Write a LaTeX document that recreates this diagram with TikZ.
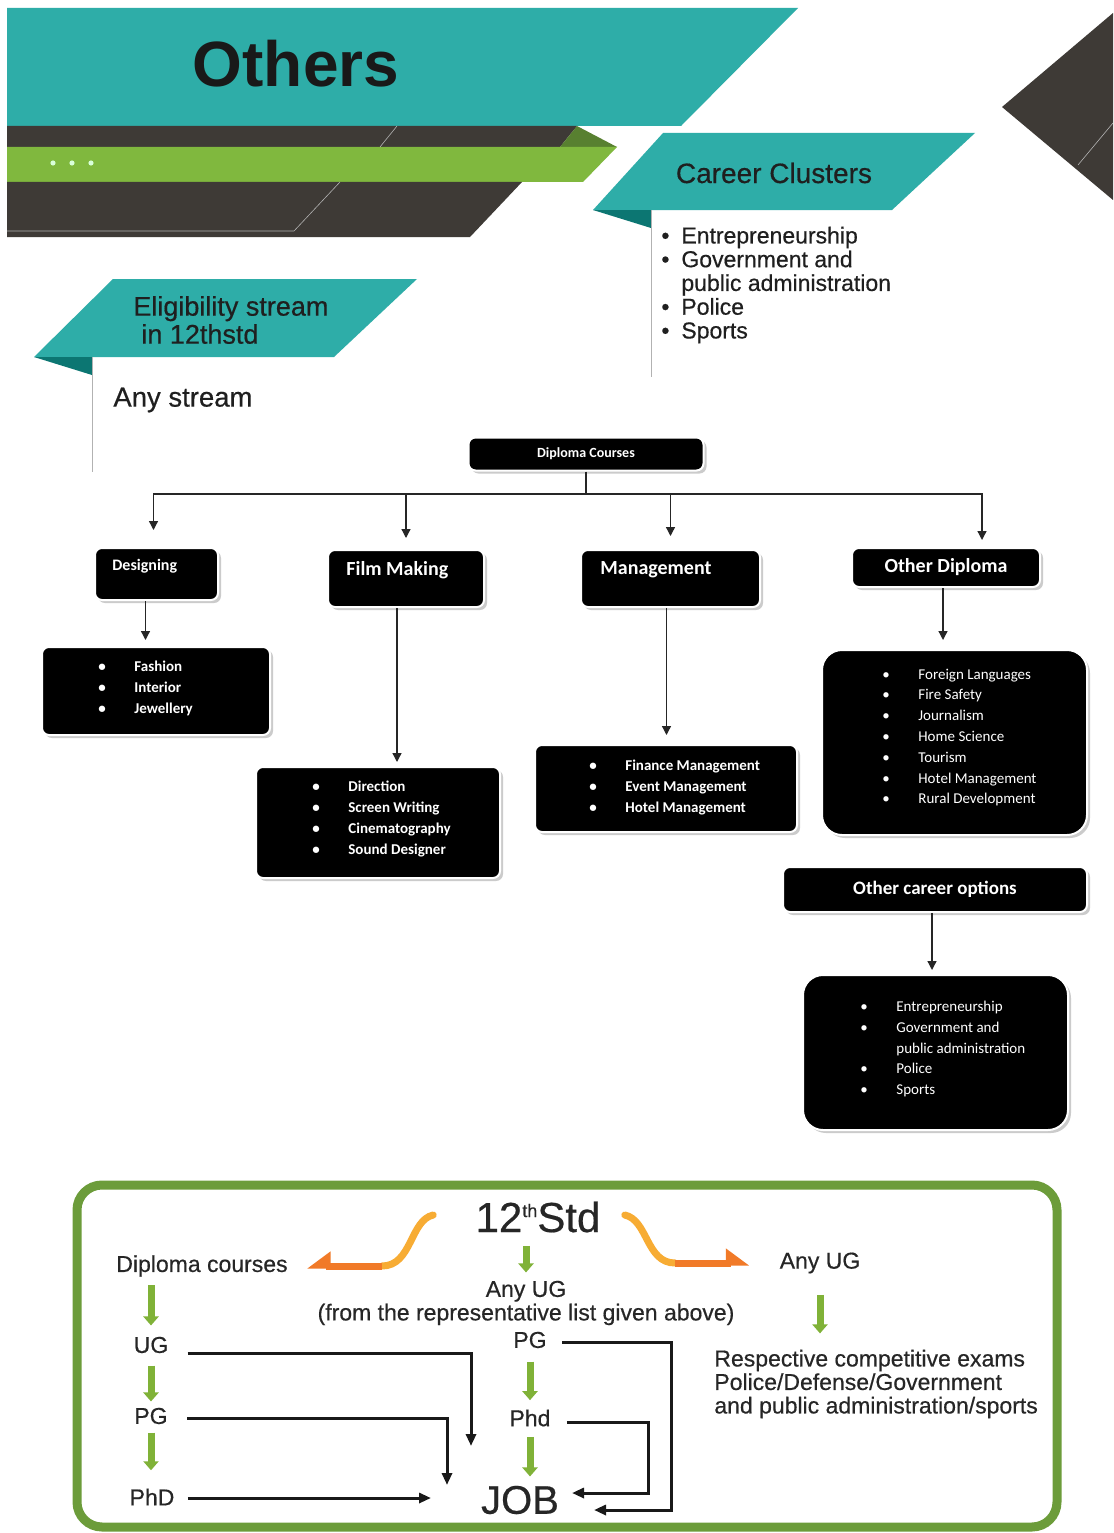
\documentclass[tikz,border=0pt]{standalone}
\usepackage{fontspec}
\setmainfont{Liberation Sans}
\newfontfamily\boxfont{Carlito}
\usetikzlibrary{arrows.meta,shadows}

\definecolor{bannerteal}{RGB}{46,173,168}
\definecolor{foldteal}{RGB}{12,118,114}
\definecolor{bandgray}{RGB}{62,58,54}
\definecolor{bandgreen}{RGB}{128,184,62}
\definecolor{foldgreen}{RGB}{88,128,48}
\definecolor{framegreen}{RGB}{108,156,58}
\definecolor{arrowgreen}{RGB}{128,178,56}
\definecolor{orangelight}{RGB}{247,172,52}
\definecolor{orangedark}{RGB}{241,122,40}

\newcommand{\hb}{\makebox[20pt][l]{\textbullet}}
\newcommand{\bb}{\makebox[36pt][l]{\textbullet}}
\newcommand{\heavy}{\addfontfeatures{FakeBold=0.5}}

\begin{document}
\begin{tikzpicture}[x=1pt,y=-1pt,thick,
    box/.style={rectangle,rounded corners=7pt,fill=black,draw=white,line width=2pt,
      drop shadow={shadow xshift=3pt,shadow yshift=-3pt,fill=black!40},inner sep=0pt},
    big box/.style={box,rounded corners=20pt},
    box text/.style={text=white,inner sep=0pt,font=\boxfont\bfseries\fontsize{#1}{#1}\selectfont},
    list text/.style={text=white,inner sep=0pt,align=left,font=\boxfont\bfseries\fontsize{15}{21}\selectfont},
    plain list/.style={list text,font=\boxfont\fontsize{15}{20.8}\selectfont},
    head text/.style={inner sep=0pt,text=black!88,font=\fontsize{#1}{#1}\selectfont\heavy},
    head list/.style={inner sep=0pt,text=black!88,align=left,font=\fontsize{23}{23.75}\selectfont\heavy},
    conn/.style={draw=black!85,line width=1.3pt,-{Triangle[length=9pt,width=9pt]},shorten >=12pt},
    bottom text/.style={inner sep=2pt,text=black!85,font=\fontsize{23}{23.5}\selectfont\heavy},
    green step/.style={draw=arrowgreen,line width=7pt,-{Triangle[length=9pt,width=15pt]}},
    bottom line/.style={draw=black!90,line width=3pt,-{Triangle[length=12pt,width=10pt]}},
    orange curve/.style={draw=orangelight,line width=7pt,line cap=round},
    orange tip/.style={draw=orangedark,line width=7pt,-{Triangle[harpoon,swap,length=20pt,width=28pt]}},
    orange tip r/.style={draw=orangedark,line width=7pt,-{Triangle[harpoon,length=20pt,width=28pt]}}]

  \useasboundingbox (0,0) rectangle (1113,1533);
  \fill[white] (0,0) rectangle (1113,1533);

  % header bands
  \fill[bannerteal] (7,8) -- (798,8) -- (681,126) -- (7,126) -- cycle;
  \fill[bandgray] (7,126) -- (577,126) -- (560,147) -- (7,147) -- cycle;
  \fill[foldgreen] (577,126) -- (617,147) -- (560,147) -- cycle;
  \fill[bandgreen] (7,147) -- (617,147) -- (583,182) -- (7,182) -- cycle;
  \fill[bandgray] (7,182) -- (522,182) -- (470,237) -- (7,237) -- cycle;
  \draw[black!30,line width=0.6pt] (397,126) -- (380,147) (340,182) -- (294,231) -- (7,231);
  \foreach \dx in {53,72,91}
    \fill[green!15!white] (\dx,163) circle (2.6);
  \fill[bandgray] (1002,107) -- (1113,13) -- (1113,200) -- cycle;
  \draw[black!30,line width=0.6pt] (1078,165) -- (1113,123);
  \node[inner sep=0pt,text=black!90,font=\bfseries\fontsize{64}{64}\selectfont] (title) at (296,64) {Others};

  % career clusters
  \fill[bannerteal] (663,133) -- (975,133) -- (892,210) -- (593,210) -- cycle;
  \fill[foldteal] (593,210) -- (651,210) -- (651,228) -- cycle;
  \draw[black!30,line width=1pt] (651,210) -- (651,377);
  \node[head text=28] (clusters) at (774,173) {Career Clusters};
  \node[head list,anchor=west] (clusterlist) at (661,285)
    {\hb Entrepreneurship\\\hb Government and\\\hspace*{20pt}public administration\\\hb Police\\\hb Sports};

  % eligibility
  \fill[bannerteal] (113,279) -- (417,279) -- (334,357) -- (34,357) -- cycle;
  \fill[foldteal] (34,357) -- (92,357) -- (92,375) -- cycle;
  \draw[black!30,line width=1pt] (92,357) -- (92,472);
  \node[head list,font=\fontsize{27}{28}\selectfont\heavy,anchor=west] (elig) at (133,320)
    {Eligibility stream\\\hspace*{8pt}in 12thstd};
  \node[head text=27.5,anchor=west] (anystream) at (113,400) {Any stream};

  % diploma chart
  \node[box,box text=14,minimum width=235pt,minimum height=33pt] (dip) at (586,454) {Diploma Courses};
  \node[box,minimum width=123pt,minimum height=52pt] (des) at (156.5,574) {};
  \node[box text=16,anchor=west] (destxt) at (112,566) {Designing};
  \node[box,minimum width=156pt,minimum height=57pt] (film) at (406,578.5) {};
  \node[box text=20,anchor=west] (filmtxt) at (346,570) {Film Making};
  \node[box,minimum width=179pt,minimum height=57pt] (mgmt) at (670.5,578.5) {};
  \node[box text=20,anchor=west] (mgmttxt) at (600,570) {Management};
  \node[box,box text=20,minimum width=188pt,minimum height=39pt] (odip) at (946,567.5) {Other Diploma};

  \node[box,minimum width=228pt,minimum height=88pt] (deslist) at (156,691) {};
  \node[list text,anchor=west] (deslisttxt) at (98,688) {\bb Fashion\\\bb Interior\\\bb Jewellery};
  \node[box,minimum width=244pt,minimum height=111pt] (filmlist) at (378,822.5) {};
  \node[list text,anchor=west] (filmlisttxt) at (312,818.5)
    {\bb Direction\\\bb Screen Writing\\\bb Cinematography\\\bb Sound Designer};
  \node[box,minimum width=262pt,minimum height=87pt] (mgmtlist) at (666,788.5) {};
  \node[list text,anchor=west] (mgmtlisttxt) at (589,787)
    {\bb Finance Management\\\bb Event Management\\\bb Hotel Management};
  \node[big box,minimum width=265pt,minimum height=185pt] (odiplist) at (954.5,742.5) {};
  \node[plain list,anchor=west] (odiplisttxt) at (882,737.5)
    {\bb Foreign Languages\\\bb Fire Safety\\\bb Journalism\\\bb Home Science\\\bb Tourism\\\bb Hotel Management\\\bb Rural Development};

  \node[box,box text=19,minimum width=304pt,minimum height=45pt] (ocareer) at (935,889.5) {Other career options};
  \node[big box,minimum width=265pt,minimum height=155pt] (oclist) at (935.5,1052.5) {};
  \node[plain list,anchor=west] (oclisttxt) at (860,1049)
    {\bb Entrepreneurship\\\bb Government and\\\hspace*{36pt}public administration\\\bb Police\\\bb Sports};

  \coordinate (split) at (586,494);
  \draw[draw=black!85,line width=1.3pt] (dip.south) -- (split);
  \draw[conn,shorten >=17pt] (split) -| ([xshift=-3pt]des.north);
  \draw[conn,shorten >=11pt] (split) -| (film.north);
  \draw[conn,shorten >=13pt] (split) -| (mgmt.north);
  \draw[conn,shorten >=7pt] (split) -| ([xshift=36pt]odip.north);
  \draw[conn,shorten >=6pt] ([xshift=-11pt]des.south) -- ([xshift=-11pt]des.south |- deslist.north);
  \draw[conn,shorten >=4pt] ([xshift=-9pt]film.south) -- ([xshift=-9pt]film.south |- filmlist.north);
  \draw[conn,shorten >=9pt] ([xshift=-4pt]mgmt.south) -- ([xshift=-4pt]mgmt.south |- mgmtlist.north);
  \draw[conn,shorten >=9pt] ([xshift=-3pt]odip.south) -- ([xshift=-3pt]odip.south |- odiplist.north);
  \draw[conn,shorten >=4pt] ([xshift=-3pt]ocareer.south) -- ([xshift=-3pt]ocareer.south |- oclist.north);

  % pathways
  \draw[framegreen,line width=9pt,rounded corners=25pt] (77,1185) rectangle (1057,1527);
  \node[bottom text,font=\fontsize{42}{42}\selectfont\heavy] (std12) at (538,1217)
    {12\raisebox{15pt}{\fontsize{18}{18}\selectfont\heavy th}Std};
  \node[bottom text] (dipc) at (202,1266) {Diploma courses};
  \node[bottom text,align=center] (anyug) at (526,1303) {Any UG\\(from the representative list given above)};
  \node[bottom text] (anyugr) at (820,1263) {Any UG};
  \node[bottom text] (ug) at (151,1345) {UG};
  \node[bottom text] (pgl) at (151,1416) {PG};
  \node[bottom text] (phdl) at (152,1497) {PhD};
  \node[bottom text] (pgm) at (530,1340) {PG};
  \node[bottom text] (phdm) at (530,1418) {Phd};
  \node[bottom text,font=\fontsize{40}{40}\selectfont\heavy] (job) at (520,1500) {JOB};
  \node[bottom text,align=left,anchor=west] (exams) at (712,1384)
    {Respective competitive exams\\Police/Defense/Government\\and public administration/sports};

  \coordinate (olbend) at (382,1266);
  \draw[orange curve] ([xshift=-40pt,yshift=2pt]std12.west) .. controls (410,1220) and (412,1266) .. (olbend);
  \draw[orange tip] (olbend) -- ([xshift=17pt]dipc.east);
  \coordinate (orbend) at (675,1263);
  \draw[orange curve] ([xshift=22pt,yshift=2pt]std12.east) .. controls (648,1220) and (646,1263) .. (orbend);
  \draw[orange tip r] (orbend) -- ([xshift=-28pt]anyugr.west);

  \draw[green step,shorten <=11pt,shorten >=6pt] (std12.south -| anyug.north) -- (anyug.north);
  \draw[green step,shorten <=6pt,shorten >=9pt] (dipc.south -| ug.north) -- (ug.north);
  \draw[green step,shorten <=10pt,shorten >=4pt] (ug.south) -- (pgl.north);
  \draw[green step,shorten <=6pt,shorten >=16pt] (pgl.south) -- (pgl.south |- phdl.north);
  \draw[green step,shorten <=11pt,shorten >=7pt] (pgm.south) -- (phdm.north);
  \draw[green step,shorten <=8pt,shorten >=7pt] (phdm.south) -- (phdm.south |- job.north);
  \draw[green step,shorten <=19pt,shorten >=14pt] (anyugr.south) -- (anyugr.south |- exams.north);

  \coordinate (jobin1) at (471,1446);
  \coordinate (jobin2) at (447,1485);
  \coordinate (jobin3) at (431,1498);
  \coordinate (jobr1) at (671,1510);
  \coordinate (jobin4) at (594,1510);
  \coordinate (jobr2) at (648,1493);
  \coordinate (jobin5) at (572,1493);
  \draw[bottom line] ([xshift=17pt,yshift=-8pt]ug.east) -| (jobin1);
  \draw[bottom line] ([xshift=17pt,yshift=-2pt]pgl.east) -| (jobin2);
  \draw[bottom line] ([xshift=11pt,yshift=-1pt]phdl.east) -- (jobin3);
  \draw[bottom line] ([xshift=13pt,yshift=-2pt]pgm.east) -| (jobr1) -- (jobin4);
  \draw[bottom line] ([xshift=14pt,yshift=-4pt]phdm.east) -| (jobr2) -- (jobin5);
\end{tikzpicture}
\end{document}
